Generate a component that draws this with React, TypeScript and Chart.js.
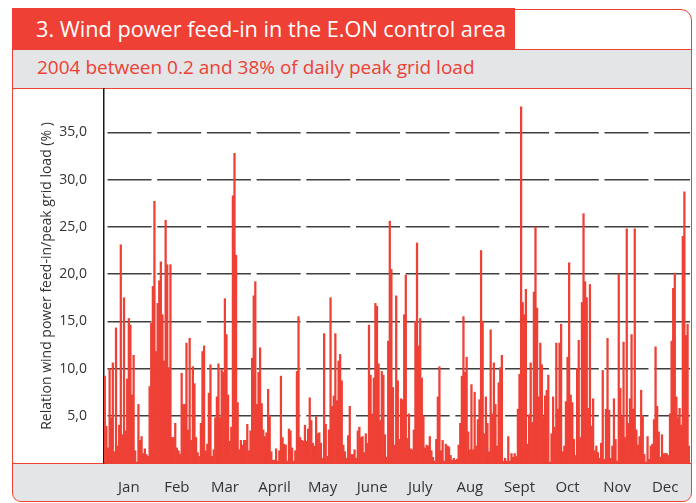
import React, { useEffect, useRef } from 'react';
import { Chart, registerables } from 'chart.js';

Chart.register(...registerables);

// Month names used as x tick labels
const monthNames = ['Jan', 'Feb', 'Mar', 'April', 'May', 'June', 'July', 'Aug', 'Sept', 'Oct', 'Nov', 'Dec'];

// Daily wind power feed-in as % of daily peak grid load, 2004
const jan = [9.2, 3.9, 1.6, 10.0, 4.8, 10.6, 1.2, 14.3, 1.8, 4.0, 23.1, 3.0, 17.5, 3.4, 8.9, 15.3, 14.6, 7.2, 11.4, 1.3, 0.1, 6.2, 2.4, 2.8, 1.0, 1.5, 0.9, 0.7, 8.1, 14.8, 18.7];
const feb = [27.7, 11.8, 16.9, 19.3, 21.3, 15.7, 10.8, 25.7, 21.0, 10.1, 21.0, 2.7, 2.7, 4.2, 1.6, 1.3, 0.9, 9.5, 6.2, 6.2, 12.7, 3.5, 13.2, 2.4, 10.2, 8.4, 2.7, 1.1, 0.7];
const mar = [4.2, 11.8, 12.4, 1.3, 2.0, 7.4, 10.4, 0.7, 1.4, 4.8, 7.0, 10.5, 4.8, 9.9, 9.6, 17.4, 13.6, 7.2, 2.3, 3.8, 28.3, 32.8, 22.0, 6.4, 1.4, 2.4, 1.9, 2.4, 2.4, 4.1, 1.3];
const apr = [3.4, 11.1, 17.7, 19.2, 6.2, 9.6, 12.2, 6.3, 3.5, 2.8, 3.2, 7.8, 5.0, 1.2, 0.3, 0.3, 1.5, 0.2, 1.3, 9.2, 2.7, 2.0, 1.9, 0.2, 3.6, 3.4, 1.6, 0.2, 1.3, 9.7];
const may = [15.5, 2.7, 2.4, 2.3, 4.0, 2.3, 3.6, 6.9, 4.5, 2.1, 1.8, 4.9, 3.1, 3.2, 2.1, 0.5, 13.7, 4.1, 0.7, 3.5, 17.5, 6.0, 7.1, 13.7, 6.6, 10.8, 11.5, 8.7, 1.9, 1.2, 0.5];
const jun = [2.9, 6.0, 0.9, 0.9, 1.4, 0.5, 3.4, 3.8, 2.7, 2.8, 1.1, 3.1, 2.1, 14.6, 9.3, 5.2, 9.0, 16.9, 16.6, 10.5, 4.5, 9.7, 9.3, 3.0, 0.6, 12.9, 25.6, 20.5, 8.0, 1.9];
const jul = [17.7, 8.7, 2.5, 6.8, 6.7, 15.7, 19.9, 2.6, 5.2, 1.5, 1.4, 3.5, 15.0, 23.3, 12.4, 15.3, 9.0, 5.0, 1.6, 1.9, 1.8, 2.8, 1.3, 0.6, 0.2, 2.5, 7.0, 10.2, 1.3, 2.4, 0.2];
const aug = [2.0, 1.8, 1.7, 0.8, 0.3, 0.5, 0.3, 0.4, 1.9, 4.2, 9.2, 15.5, 9.6, 11.2, 3.3, 1.4, 8.3, 1.4, 7.5, 1.8, 4.6, 6.7, 22.5, 15.0, 3.1, 7.0, 4.2, 1.2, 14.1, 5.2, 10.6];
const sep = [6.2, 1.8, 8.5, 10.1, 11.4, 0.2, 0.5, 0.2, 2.8, 0.2, 1.0, 0.6, 1.0, 0.7, 5.7, 9.4, 37.7, 17.0, 15.7, 18.4, 2.0, 5.1, 10.6, 4.3, 18.1, 25.0, 16.4, 7.0, 12.7, 10.4];
const oct = [4.9, 7.1, 7.7, 9.3, 0.1, 3.1, 7.0, 3.8, 12.7, 5.7, 12.7, 14.7, 1.2, 1.8, 6.5, 11.2, 21.2, 7.2, 6.4, 2.5, 0.8, 10.0, 13.0, 2.7, 17.0, 26.4, 19.2, 17.5, 5.8, 18.9, 3.9];
const nov = [6.8, 1.3, 1.8, 1.1, 0.5, 2.1, 9.8, 0.4, 5.7, 13.2, 5.6, 0.5, 1.8, 6.8, 2.5, 0.2, 20.0, 7.9, 4.9, 12.8, 2.7, 24.8, 4.2, 6.8, 13.6, 5.7, 24.8, 3.5, 1.9, 2.8];
const dec = [7.7, 5.0, 0.9, 0.1, 2.8, 0.4, 1.8, 2.0, 4.6, 12.3, 6.0, 3.3, 0.6, 3.0, 1.0, 1.0, 1.0, 0.8, 5.2, 12.9, 18.5, 20.1, 7.0, 4.8, 5.8, 4.0, 24.0, 28.7, 13.5, 14.7, 1.8];

// Y axis tick values
const yTickValues = [5, 10, 15, 20, 25, 30, 35];

const monthSeries = [jan, feb, mar, apr, may, jun, jul, aug, sep, oct, nov, dec];
const dailyValues: number[] = monthSeries.flat();
const dayLabels: string[] = dailyValues.map((_, i) => String(i + 1));
const monthTickAt = new Map<number, string>();
{
  let start = 0;
  monthSeries.forEach((m, i) => {
    monthTickAt.set(start + Math.floor(m.length / 2), monthNames[i]);
    start += m.length;
  });
}

const RED = '#EE4035';
const GRAY = '#E4E5E7';
const FONT = "'Open Sans', 'DejaVu Sans', sans-serif";

export default function App() {
  const ref = useRef<HTMLCanvasElement>(null);

  useEffect(() => {
    if (!ref.current) return;
    Chart.defaults.font.family = FONT;
    const chart = new Chart(ref.current, {
      type: 'bar',
      data: {
        labels: dayLabels,
        datasets: [
          {
            data: dailyValues,
            backgroundColor: RED,
            borderWidth: 0,
            barPercentage: 1,
            categoryPercentage: 1,
          },
        ],
      },
      options: {
        animation: false,
        responsive: false,
        maintainAspectRatio: false,
        layout: { padding: { left: 0, right: 6, top: 89, bottom: 0 } },
        plugins: {
          legend: { display: false },
          tooltip: { enabled: false },
          title: { display: false },
        },
        scales: {
          x: {
            grid: { display: false, drawTicks: false },
            border: { display: false },
            ticks: {
              autoSkip: false,
              maxRotation: 0,
              minRotation: 0,
              padding: 0,
              color: '#333333',
              font: { family: FONT, size: 15, lineHeight: 3.35 },
              callback: (value: any) => monthTickAt.get(Number(value)) ?? '',
            },
            afterFit: (scale: any) => {
              scale.height = 40;
            },
          },
          y: {
            min: 0,
            max: 39.6,
            z: 1,
            afterBuildTicks: (axis: any) => {
              axis.ticks = yTickValues.map((v) => ({ value: v }));
            },
            grid: {
              color: '#3f3f3f',
              lineWidth: 1.5,
              drawTicks: false,
            },
            border: {
              display: true,
              color: '#1a1a1a',
              width: 1.5,
              dash: [44, 5.7],
              dashOffset: 46.7,
            },
            ticks: {
              padding: 17,
              color: '#333333',
              font: { family: FONT, size: 14 },
              callback: (value: any) => Number(value).toFixed(1).replace('.', ','),
            },
            title: {
              display: true,
              text: 'Relation wind power feed-in/peak grid load (% )',
              color: '#333333',
              font: { family: FONT, size: 14 },
              padding: { top: 38.6, bottom: 0 },
            },
            afterFit: (scale: any) => {
              scale.width = 104;
            },
          },
        },
      },
    } as any);
    return () => chart.destroy();
  }, []);

  return (
    <div
      style={{
        position: 'fixed',
        left: 0,
        top: 0,
        width: 696,
        height: 503,
        background: '#ffffff',
        overflow: 'hidden',
        fontFamily: FONT,
      }}
    >
      <div
        style={{
          position: 'absolute',
          left: 12,
          top: 49,
          width: 680,
          height: 40,
          boxSizing: 'border-box',
          background: GRAY,
          borderTop: `1px solid ${RED}`,
          borderBottom: `1px solid ${RED}`,
          color: RED,
          fontSize: 19,
          lineHeight: '35px',
          paddingLeft: 25,
          whiteSpace: 'nowrap',
        }}
      >
        2004 between 0.2 and 38% of daily peak grid load
      </div>
      <div
        style={{
          position: 'absolute',
          left: 12,
          top: 463,
          width: 680,
          height: 38,
          boxSizing: 'border-box',
          background: GRAY,
          borderTop: `1px solid ${RED}`,
          borderRadius: '0 0 9px 9px',
        }}
      />
      <div
        style={{
          position: 'absolute',
          left: 12,
          top: 9,
          width: 680,
          height: 493,
          boxSizing: 'border-box',
          border: `1px solid ${RED}`,
          borderRadius: '0 11px 9px 9px',
        }}
      />
      <div
        style={{
          position: 'absolute',
          left: 12,
          top: 8,
          width: 503,
          height: 41,
          background: RED,
          color: '#ffffff',
          fontSize: 21.7,
          lineHeight: '41px',
          paddingLeft: 24,
          boxSizing: 'border-box',
          whiteSpace: 'nowrap',
        }}
      >
        3. Wind power feed-in in the E.ON control area
      </div>
      <canvas
        ref={ref}
        width={696}
        height={503}
        style={{ position: 'absolute', left: 0, top: 0, width: 696, height: 503 }}
      />
    </div>
  );
}
